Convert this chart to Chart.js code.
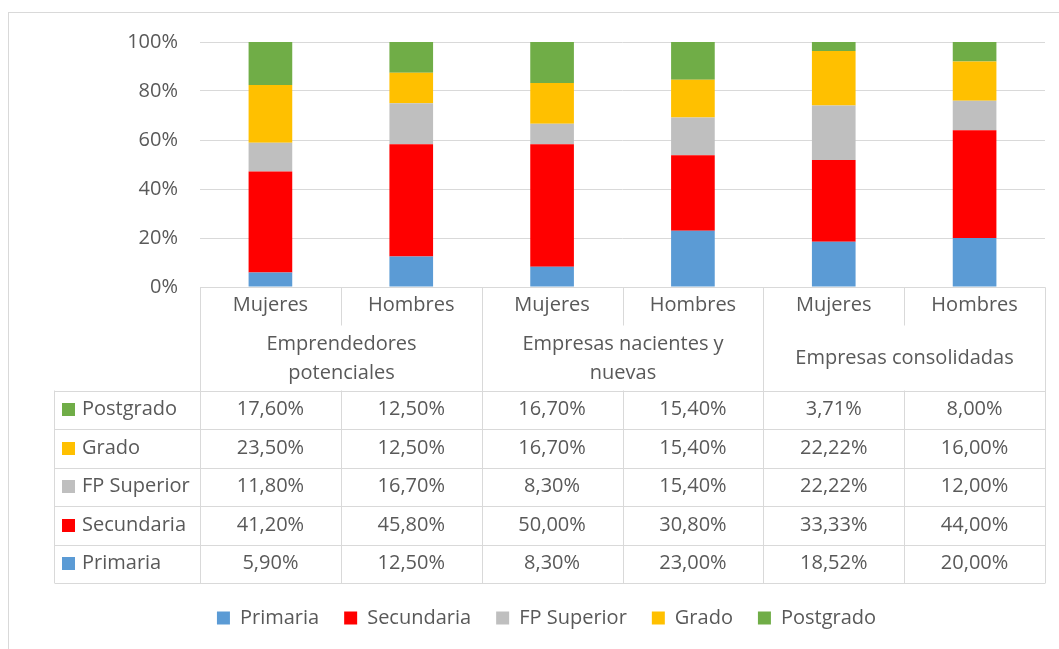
<!DOCTYPE html>
<html>
<head>
<meta charset="utf-8">
<script src="https://cdn.jsdelivr.net/npm/chart.js@4.4.1/dist/chart.umd.min.js"></script>
<style>
  html, body { margin: 0; padding: 0; background: #fff; }
  #wrap { width: 1059px; height: 649px; position: relative; }
</style>
</head>
<body>
<div id="wrap"><canvas id="chart"></canvas></div>
<script>
'use strict';

// chart data
let categories = ['Mujeres', 'Hombres', 'Mujeres', 'Hombres', 'Mujeres', 'Hombres'];
let groupLabels = [['Emprendedores', 'potenciales'], ['Empresas nacientes y', 'nuevas'], ['Empresas consolidadas']];
let seriesNames = ['Primaria', 'Secundaria', 'FP Superior', 'Grado', 'Postgrado'];
let primaria = [5.9, 12.5, 8.3, 23.0, 18.52, 20.0];
let secundaria = [41.2, 45.8, 50.0, 30.8, 33.33, 44.0];
let fpSuperior = [11.8, 16.7, 8.3, 15.4, 22.22, 12.0];
let grado = [23.5, 12.5, 16.7, 15.4, 22.22, 16.0];
let postgrado = [17.6, 12.5, 16.7, 15.4, 3.71, 8.0];
let yTicks = [0, 20, 40, 60, 80, 100];

let seriesValues = [primaria, secundaria, fpSuperior, grado, postgrado];
let seriesColors = ['#5b9bd5', '#ff0000', '#bfbfbf', '#ffc000', '#70ad47'];

let textColor = '#595959';
let lineColor = '#d9d9d9';
let fontFamily = '"Open Sans", Lato, sans-serif';
let fontSize = 20;

Chart.defaults.font.family = fontFamily;
Chart.defaults.font.size = fontSize;
Chart.defaults.color = textColor;

function formatPct(v) {
  return v.toFixed(2).replace('.', ',') + '%';
}

// draws the frame, the category rows and the data table under the bars
let tablePlugin = {
  id: 'dataTable',
  afterLayout(chart) {
    // the legend in the original sits a bit right of centre
    chart.legend.left += 19;
    chart.legend.right += 19;
  },
  beforeDraw(chart) {
    let ctx = chart.ctx;
    ctx.save();
    ctx.strokeStyle = lineColor;
    ctx.lineWidth = 1;
    ctx.strokeRect(8.5, 12.5, 1100, 700);
    ctx.restore();
  },
  afterDraw(chart) {
    let ctx = chart.ctx;
    let area = chart.chartArea;
    let xScale = chart.scales.x;
    let colW = (area.right - area.left) / categories.length;
    let edges = [];
    for (let i = 0; i <= categories.length; i++) {
      edges.push(Math.round(area.left + i * colW) + 0.5);
    }
    let top = Math.round(area.bottom) + 0.5;
    let catBottom = top + 38;
    let tableTop = top + 103;
    let rowH = 38.5;
    let tableBottom = tableTop + rowH * seriesNames.length;
    let tableLeft = 54.5;

    ctx.save();
    ctx.strokeStyle = lineColor;
    ctx.lineWidth = 1;
    ctx.beginPath();
    ctx.moveTo(area.left, top);
    ctx.lineTo(edges[edges.length - 1], top);
    for (let i = 0; i < edges.length; i++) {
      ctx.moveTo(edges[i], top);
      ctx.lineTo(edges[i], i % 2 === 0 ? tableBottom : catBottom);
      if (i % 2 === 1) {
        ctx.moveTo(edges[i], tableTop);
        ctx.lineTo(edges[i], tableBottom);
      }
    }
    for (let r = 0; r <= seriesNames.length; r++) {
      let y = Math.round(tableTop + r * rowH) + 0.5;
      ctx.moveTo(tableLeft, y);
      ctx.lineTo(edges[edges.length - 1], y);
    }
    ctx.moveTo(tableLeft, tableTop);
    ctx.lineTo(tableLeft, tableBottom);
    ctx.stroke();

    ctx.fillStyle = textColor;
    ctx.font = fontSize + 'px ' + fontFamily;
    ctx.textAlign = 'center';
    ctx.textBaseline = 'middle';
    for (let i = 0; i < categories.length; i++) {
      ctx.fillText(categories[i], xScale.getPixelForValue(i), top + 18);
    }
    for (let g = 0; g < groupLabels.length; g++) {
      let cx = (edges[g * 2] + edges[g * 2 + 2]) / 2;
      let lines = groupLabels[g];
      let mid = top + 71;
      for (let l = 0; l < lines.length; l++) {
        ctx.fillText(lines[l], cx, mid + (l - (lines.length - 1) / 2) * 29);
      }
    }

    // table rows, top row is the last series
    for (let r = 0; r < seriesNames.length; r++) {
      let s = seriesNames.length - 1 - r;
      let cy = tableTop + r * rowH + rowH / 2;
      ctx.fillStyle = seriesColors[s];
      ctx.fillRect(62, Math.round(cy - 6.5), 13, 13);
      ctx.fillStyle = textColor;
      ctx.textAlign = 'left';
      ctx.fillText(seriesNames[s], 82, cy);
      ctx.textAlign = 'center';
      for (let i = 0; i < categories.length; i++) {
        ctx.fillText(formatPct(seriesValues[s][i]), xScale.getPixelForValue(i), cy);
      }
    }
    ctx.restore();
  }
};

let datasets = [];
for (let s = 0; s < seriesNames.length; s++) {
  datasets.push({
    label: seriesNames[s],
    data: seriesValues[s],
    backgroundColor: seriesColors[s],
    borderWidth: 0,
    barPercentage: 0.31,
    categoryPercentage: 1
  });
}

let chart = new Chart(document.getElementById('chart').getContext('2d'), {
  type: 'bar',
  data: { labels: categories, datasets: datasets },
  plugins: [tablePlugin],
  options: {
    responsive: true,
    maintainAspectRatio: false,
    animation: false,
    layout: { padding: { left: 10, right: 14, top: 42, bottom: 11 } },
    plugins: {
      legend: {
        position: 'bottom',
        labels: { boxWidth: 13, boxHeight: 13, padding: 25, color: textColor, font: { size: fontSize } }
      },
      tooltip: { enabled: false }
    },
    scales: {
      x: {
        stacked: true,
        grid: { display: false },
        border: { display: false },
        ticks: { display: false },
        afterFit(scale) { scale.height = 296; }
      },
      y: {
        stacked: true,
        min: 0,
        max: 100,
        afterBuildTicks(scale) { scale.ticks = yTicks.map(v => ({ value: v })); },
        afterFit(scale) { scale.width = 190; },
        grid: { color: lineColor, drawTicks: false },
        border: { display: false },
        ticks: { padding: 22, color: textColor, callback: v => v + '%' }
      }
    }
  }
});
</script>
</body>
</html>
